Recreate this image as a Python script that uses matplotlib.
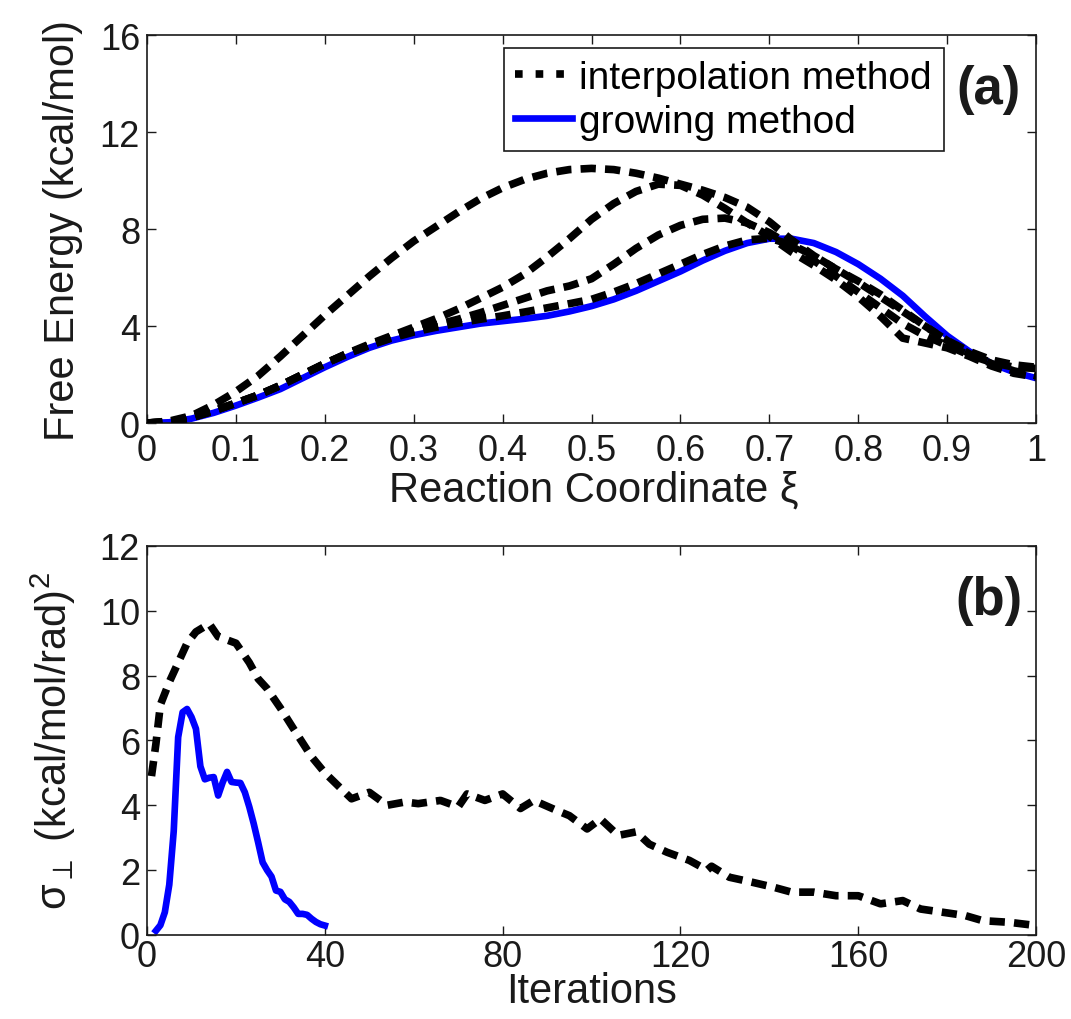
import matplotlib
matplotlib.use('Agg')
import matplotlib.pyplot as plt
from matplotlib.lines import Line2D

plt.rcParams['font.family'] = ['Liberation Sans', 'DejaVu Sans']
plt.rcParams['mathtext.fontset'] = 'custom'
plt.rcParams['mathtext.rm'] = 'Liberation Sans'
plt.rcParams['mathtext.it'] = 'Liberation Sans:italic'
plt.rcParams['mathtext.bf'] = 'Liberation Sans:bold'

# --- (a) free energy profiles along the reaction coordinate ---
xi = [i * 0.025 for i in range(41)]

fe_growing = [0.00, 0.03, 0.18, 0.42, 0.72, 1.05, 1.40, 1.85, 2.30, 2.72,
              3.10, 3.40, 3.62, 3.80, 3.95, 4.10, 4.20, 4.30, 4.42, 4.60,
              4.82, 5.10, 5.45, 5.85, 6.25, 6.70, 7.10, 7.42, 7.60, 7.60,
              7.42, 7.05, 6.55, 5.95, 5.25, 4.40, 3.60, 2.95, 2.45, 2.10,
              1.85]

# interpolation method, successive string profiles
fe_interp_1 = [0.00, 0.08, 0.30, 0.75, 1.30, 1.95, 2.75, 3.60, 4.45, 5.25,
               6.05, 6.80, 7.50, 8.10, 8.70, 9.25, 9.70, 10.05, 10.30, 10.45,
               10.50, 10.45, 10.30, 10.10, 9.85, 9.60, 9.30, 8.90, 8.30, 7.55,
               6.90, 6.35, 5.85, 5.30, 4.65, 4.00, 3.40, 2.95, 2.60, 2.40,
               2.30]
fe_interp_2 = [0.00, 0.05, 0.22, 0.50, 0.82, 1.15, 1.55, 2.00, 2.45, 2.87,
               3.25, 3.60, 3.95, 4.30, 4.70, 5.15, 5.60, 6.15, 6.85, 7.60,
               8.40, 9.05, 9.55, 9.85, 9.80, 9.40, 8.85, 8.25, 7.70, 7.05,
               6.50, 5.90, 5.20, 4.40, 3.50, 3.30, 3.10, 2.75, 2.35, 2.05,
               1.90]
fe_interp_3 = [0.00, 0.05, 0.22, 0.50, 0.82, 1.15, 1.55, 2.00, 2.45, 2.85,
               3.20, 3.52, 3.80, 4.05, 4.28, 4.55, 4.85, 5.15, 5.45, 5.65,
               5.95, 6.55, 7.20, 7.75, 8.15, 8.40, 8.45, 8.25, 7.85, 7.30,
               6.70, 6.05, 5.40, 4.75, 4.10, 3.60, 3.20, 2.80, 2.50, 2.30,
               2.25]
fe_interp_4 = [0.00, 0.05, 0.22, 0.50, 0.82, 1.15, 1.55, 2.00, 2.45, 2.85,
               3.20, 3.50, 3.75, 3.95, 4.12, 4.28, 4.42, 4.58, 4.75, 4.92,
               5.10, 5.40, 5.75, 6.15, 6.55, 6.95, 7.30, 7.55, 7.62, 7.35,
               6.90, 6.35, 5.80, 5.20, 4.60, 4.00, 3.40, 2.85, 2.45, 2.15,
               1.95]

# --- (b) sigma_perp against iteration ---
it_interp = [1, 2, 3, 5, 7, 9, 11, 14, 16, 20, 23, 25, 27, 30, 33, 37, 40,
             43, 46, 50, 54, 58, 61, 66, 70, 72, 76, 80, 84, 87, 92, 95, 99,
             102, 106, 110, 113, 117, 122, 126, 127, 131, 136, 141, 145, 150,
             155, 160, 165, 170, 174, 179, 184, 188, 194, 200]
sig_interp = [4.9, 5.9, 7.1, 7.8, 8.4, 9.0, 9.35, 9.6, 9.2, 9.0, 8.4, 7.9,
              7.6, 7.0, 6.35, 5.5, 5.0, 4.6, 4.2, 4.4, 4.0, 4.1, 4.05, 4.15,
              3.95, 4.35, 4.15, 4.35, 3.9, 4.15, 3.85, 3.68, 3.27, 3.58, 3.07,
              3.18, 2.8, 2.55, 2.3, 2.0, 2.12, 1.78, 1.63, 1.47, 1.32, 1.32,
              1.21, 1.21, 0.96, 1.06, 0.8, 0.7, 0.6, 0.44, 0.39, 0.29]

it_grow = list(range(2, 41))
sig_grow = [0.13, 0.3, 0.7, 1.55, 3.2, 6.1, 6.87, 6.97, 6.72, 6.36, 5.2, 4.8,
            4.85, 4.87, 4.3, 4.7, 5.03, 4.72, 4.7, 4.69, 4.4, 3.95, 3.43, 2.85,
            2.24, 2.0, 1.8, 1.37, 1.33, 1.1, 1.02, 0.85, 0.65, 0.65, 0.62,
            0.5, 0.4, 0.33, 0.29]

xi_ticks = [0, 0.1, 0.2, 0.3, 0.4, 0.5, 0.6, 0.7, 0.8, 0.9, 1]
xi_ticklabels = ['0', '0.1', '0.2', '0.3', '0.4', '0.5', '0.6', '0.7', '0.8',
                 '0.9', '1']

dash = (0, (2.0, 1.2))
dash_lw = 5.5
blue_lw = 4.8
ink = '#1a1a1a'

fig = plt.figure(figsize=(10.71, 10.20), dpi=100)
ax1 = fig.add_axes([0.1373, 0.5843, 0.8301, 0.3804])
ax2 = fig.add_axes([0.1373, 0.0824, 0.8301, 0.3814])

ax1.plot(xi, fe_growing, color='#0000ff', lw=blue_lw, zorder=2)
for fe in (fe_interp_1, fe_interp_2, fe_interp_3, fe_interp_4):
    ax1.plot(xi, fe, color='k', lw=dash_lw, linestyle=dash, zorder=3)

ax1.set_xlim(0, 1)
ax1.set_ylim(0, 16)
ax1.set_xticks(xi_ticks)
ax1.set_xticklabels(xi_ticklabels)
ax1.set_yticks([0, 4, 8, 12, 16])
ax1.set_xlabel('Reaction Coordinate ξ', fontsize=30)
ax1.set_ylabel('Free Energy (kcal/mol)', fontsize=30)
ax1.xaxis.set_label_coords(0.503, -0.12)
ax1.yaxis.set_label_coords(-0.072, 0.5)

handles = [Line2D([], [], color='k', lw=dash_lw, linestyle=(0, (1.0, 1.7))),
           Line2D([], [], color='#0000ff', lw=blue_lw)]
leg = ax1.legend(handles, ['interpolation method', 'growing method'],
                 loc='upper left', bbox_to_anchor=(0.401, 0.9657),
                 borderaxespad=0, fontsize=28, handlelength=1.45,
                 handletextpad=0.2, borderpad=0.3, labelspacing=0.2,
                 fancybox=False, framealpha=1, edgecolor=ink)
leg.get_frame().set_linewidth(1.2)
ax1.text(0.947, 0.861, '(a)', transform=ax1.transAxes, fontsize=38,
         fontweight='bold', ha='center', va='center', color=ink)

ax2.plot(it_interp, sig_interp, color='k', lw=dash_lw, linestyle=dash,
         zorder=3)
ax2.plot(it_grow, sig_grow, color='#0000ff', lw=blue_lw, zorder=2)
ax2.set_xlim(0, 200)
ax2.set_ylim(0, 12)
ax2.set_xticks([0, 40, 80, 120, 160, 200])
ax2.set_yticks([0, 2, 4, 6, 8, 10, 12])
ax2.set_xlabel('Iterations', fontsize=30)
ax2.set_ylabel('σ$_\\perp$ (kcal/mol/rad)$^2$', fontsize=30)
ax2.xaxis.set_label_coords(0.5, -0.093)
ax2.yaxis.set_label_coords(-0.078, 0.5)
ax2.text(0.947, 0.861, '(b)', transform=ax2.transAxes, fontsize=38,
         fontweight='bold', ha='center', va='center', color=ink)

for ax in (ax1, ax2):
    for sp in ax.spines.values():
        sp.set_linewidth(1.2)
        sp.set_color(ink)
    ax.tick_params(direction='in', top=True, right=True, length=6.5,
                   width=1.0, labelsize=26, colors=ink)
    ax.tick_params(axis='y', pad=5)
    ax.xaxis.label.set_color(ink)
    ax.yaxis.label.set_color(ink)
ax1.tick_params(axis='x', pad=7)
ax2.tick_params(axis='x', pad=3)

fig.savefig('out.png', dpi=100)
